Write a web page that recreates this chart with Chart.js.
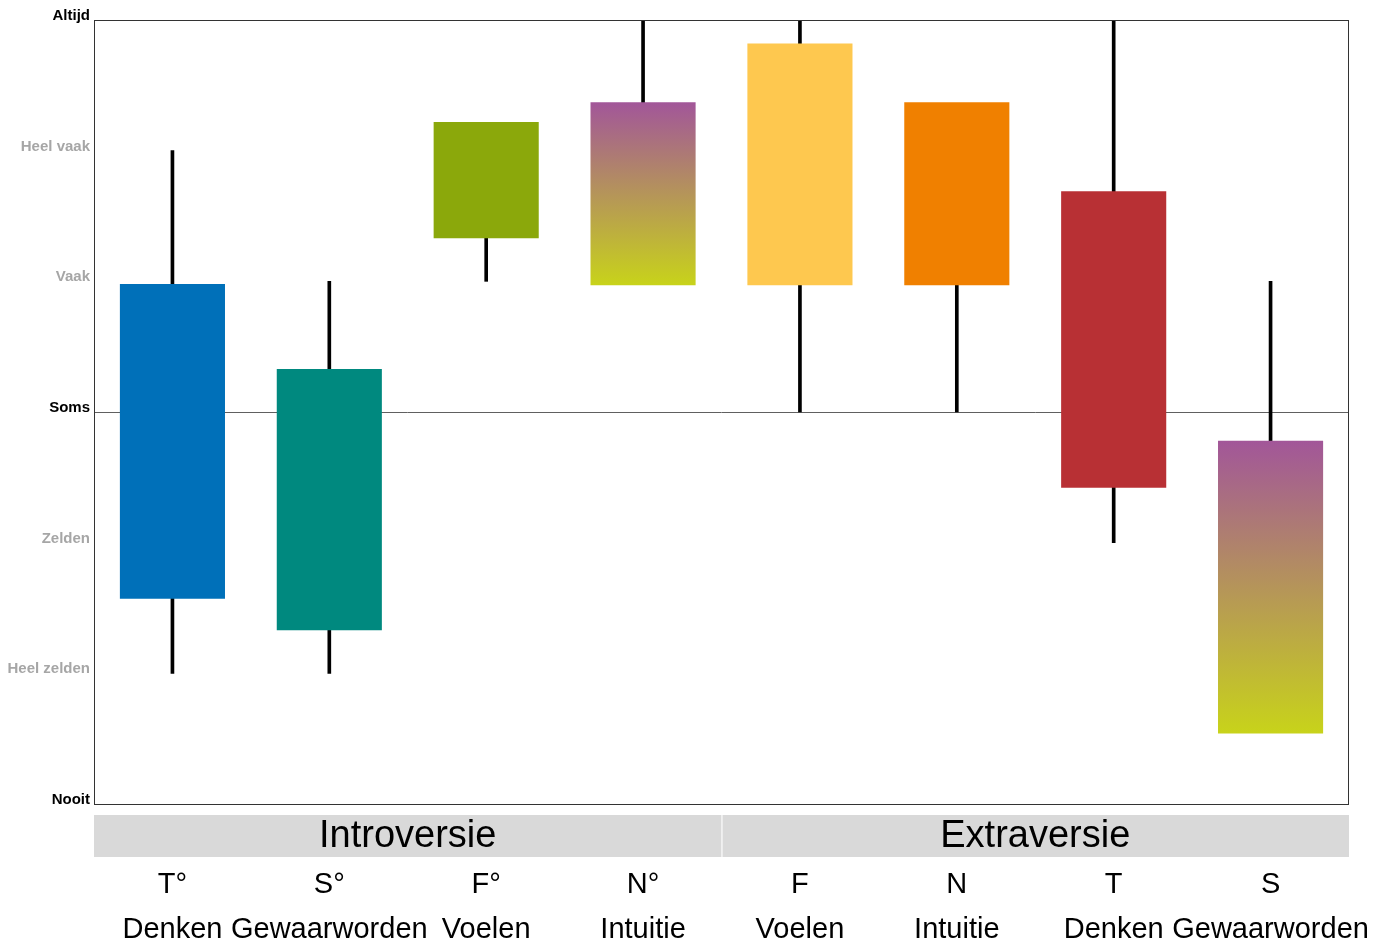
<!DOCTYPE html>
<html>
<head>
<meta charset="utf-8">
<script src="https://cdn.jsdelivr.net/npm/chart.js@4.4.0/dist/chart.umd.min.js"></script>
<style>
  body { margin: 0; background: #ffffff; }
  #wrap { width: 1386px; height: 943px; position: relative; }
</style>
</head>
<body>
<div id="wrap"><canvas id="chart"></canvas></div>
<script>
var symbols = ["T°", "S°", "F°", "N°", "F", "N", "T", "S"];
var functionNames = ["Denken", "Gewaarworden", "Voelen", "Intuitie", "Voelen", "Intuitie", "Denken", "Gewaarworden"];
var groupNames = ["Introversie", "Extraversie"];
var groupSize = 4;

var yLabels = ["Nooit", "Heel zelden", "Zelden", "Soms", "Vaak", "Heel vaak", "Altijd"];
var strongLabels = [0, 3, 6];

// box = middle range, whisker = full range (ends hidden inside the box where there is no whisker)
var boxLow = [1.57, 1.33, 4.33, 3.97, 3.97, 3.97, 2.42, 0.54];
var boxHigh = [3.98, 3.33, 5.22, 5.37, 5.82, 5.37, 4.69, 2.78];
var whiskerLow = [1.0, 1.0, 4.0, 4.5, 3.0, 3.0, 2.0, 2.0];
var whiskerHigh = [5.0, 4.0, 4.8, 6.0, 6.0, 4.5, 6.0, 4.0];

var boxColors = ["#0070b9", "#00897f", "#8ba80b", "gradient", "#fec84f", "#f08000", "#b83034", "gradient"];
var gradTop = "#a25699";
var gradBottom = "#c8d31a";

var fontFamily = "'Liberation Sans', Arial, sans-serif";

function pairs(lo, hi) {
  var out = [];
  for (var i = 0; i < lo.length; i++) out.push([lo[i], hi[i]]);
  return out;
}

function boxColor(ctx) {
  var c = boxColors[ctx.dataIndex];
  if (c !== "gradient") return c;
  var chart = ctx.chart;
  var y = chart.scales.y;
  if (!chart.chartArea || !y) return gradTop;
  var top = y.getPixelForValue(boxHigh[ctx.dataIndex]);
  var bottom = y.getPixelForValue(boxLow[ctx.dataIndex]);
  if (!isFinite(top) || !isFinite(bottom)) return gradTop;
  var g = chart.ctx.createLinearGradient(0, top, 0, bottom);
  g.addColorStop(0, gradTop);
  g.addColorStop(1, gradBottom);
  return g;
}

var labels = [];
for (var i = 0; i < symbols.length; i++) labels.push([symbols[i], functionNames[i]]);

var frameAndGroups = {
  id: "frameAndGroups",
  afterDraw: function (chart) {
    var c = chart.ctx;
    var area = chart.chartArea;
    var x = chart.scales.x;
    c.save();
    c.strokeStyle = "#333333";
    c.lineWidth = 1;
    c.strokeRect(area.left + 0.5, area.top + 0.5, area.right - area.left - 1, area.bottom - area.top);

    var half = (x.getPixelForValue(1) - x.getPixelForValue(0)) / 2;
    var bandTop = area.bottom + 11;
    var bandH = 42;
    for (var g = 0; g < groupNames.length; g++) {
      var l = x.getPixelForValue(g * groupSize) - half;
      var r = x.getPixelForValue(g * groupSize + groupSize - 1) + half;
      c.fillStyle = "#d9d9d9";
      c.fillRect(l, bandTop, r - l, bandH);
      if (g > 0) {
        c.fillStyle = "#ffffff";
        c.fillRect(Math.round(l) - 0.5, bandTop, 1, bandH);
      }
      c.fillStyle = "#000000";
      c.font = "38px " + fontFamily;
      c.textAlign = "center";
      c.textBaseline = "middle";
      c.fillText(groupNames[g], (l + r) / 2, bandTop + bandH / 2 + 1);
    }
    c.restore();
  }
};

new Chart(document.getElementById("chart"), {
  type: "bar",
  data: {
    labels: labels,
    datasets: [
      {
        label: "box",
        data: pairs(boxLow, boxHigh),
        backgroundColor: boxColor,
        borderWidth: 0,
        grouped: false,
        barPercentage: 0.67,
        categoryPercentage: 1,
        order: 0
      },
      {
        label: "whisker",
        data: pairs(whiskerLow, whiskerHigh),
        backgroundColor: "#000000",
        borderWidth: 0,
        grouped: false,
        barThickness: 3,
        order: 1
      }
    ]
  },
  options: {
    responsive: true,
    maintainAspectRatio: false,
    animation: false,
    layout: { padding: { top: 20, right: 37, left: 0, bottom: 0 } },
    plugins: {
      legend: { display: false },
      tooltip: { enabled: false }
    },
    scales: {
      x: {
        grid: { display: false, drawTicks: false },
        border: { display: false },
        ticks: {
          color: "#000000",
          padding: 58,
          maxRotation: 0,
          autoSkip: false,
          font: { family: fontFamily, size: 29, lineHeight: 45 / 29 }
        },
        afterFit: function (scale) {
          scale.height = 139;
          scale.paddingLeft = 0;
          scale.paddingRight = 0;
        }
      },
      y: {
        min: 0,
        max: 6,
        grid: {
          drawTicks: false,
          color: function (ctx) {
            return ctx.tick && ctx.tick.value === 3 ? "#606060" : "rgba(0,0,0,0)";
          }
        },
        border: { display: false },
        ticks: {
          stepSize: 1,
          padding: 4,
          labelOffset: -4,
          callback: function (v) { return yLabels[v]; },
          color: function (ctx) {
            return strongLabels.indexOf(ctx.tick.value) >= 0 ? "#000000" : "#a6a6a6";
          },
          font: { family: fontFamily, size: 15, weight: "bold" }
        },
        afterFit: function (scale) {
          scale.width = 94;
          scale.paddingTop = 0;
          scale.paddingBottom = 0;
        }
      }
    }
  },
  plugins: [frameAndGroups]
});
</script>
</body>
</html>
